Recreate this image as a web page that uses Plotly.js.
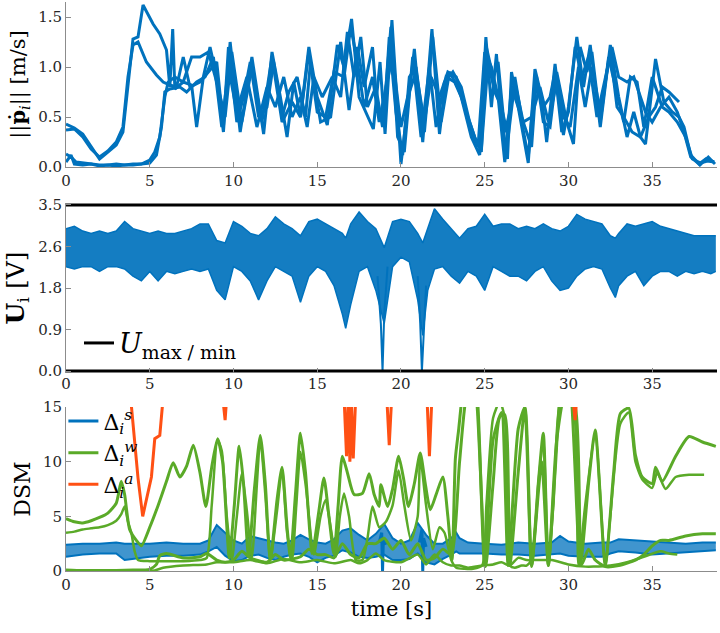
<!DOCTYPE html>
<html>
<head>
<meta charset="utf-8">
<script src="https://cdn.plot.ly/plotly-3.0.1.min.js"></script>
<style>html,body{margin:0;padding:0;background:#fff;}#chart{width:720px;height:633px;}</style>
</head>
<body>
<div id="chart"></div>
<script>
// ---------- Panel 1: speed ||p_i|| [m/s] (4 agents) ----------
const p1t = [0,0.5,1,1.5,2,2.5,3,3.4,3.7,4.0, 4.3,4.6,5.2,5.6,6.0,6.2,6.37,6.5,7.0,7.5, 7.8,8.2,8.6,9.0,9.4,9.8,10.4,11.1,11.8,12.3, 12.8,13.2,13.6,14.0,14.5,15.0,15.6,16.2,16.6,17.05, 17.5,17.9,18.35,18.75,19.05,19.46,20.0,20.4,20.8,21.3, 21.85,22.3,22.7,23.2,23.6,24.2,24.7,25.07,25.4,25.7, 26.0,26.36,26.6,27.0,27.6,28.0,28.4,28.7,29.2,29.7, 30.0,30.5,30.9,31.3,31.9,32.5,33.0,33.5,33.9,34.3, 34.6,35.2,35.7,36.2,36.6,36.9,37.3,37.85,38.35,38.75];
const p1v = [0.43,0.39,0.33,0.2,0.08,0.15,0.22,0.35,0.8,1.28, 1.3,1.62,1.43,1.33,1.17,0.8,1.38,0.78,0.85,0.82, 0.4,0.9,1.2,0.9,0.35,1.25,0.35,1.1,0.33,1.15, 0.7,0.3,0.85,0.5,1.2,0.7,0.42,1.22,1.0,1.48, 0.7,0.55,0.38,1.05,0.33,1.47,0.03,0.6,1.18,0.25, 1.38,0.33,0.9,0.85,0.7,0.3,0.12,1.3,0.6,1.13, 0.5,0.08,0.95,0.6,0.04,0.98,0.7,0.25,1.03,0.32, 0.6,1.3,0.8,1.22,0.4,1.22,0.7,0.3,0.55,0.3, 0.23,1.08,0.65,0.55,0.5,0.4,0.12,0.02,0.1,0.03];
const p2t = [0,0.5,1,1.5,2,2.5,3,3.4,3.7,4.0, 4.3,4.8,5.4,5.8,6.2,6.6,7.0,7.4,8.0,8.5, 9.0,9.4,9.7,10.2,10.6,11.0,11.5,12.0,12.4,12.9, 13.3,13.8,14.3,14.6,15.2,15.8,16.4,16.9,17.4,17.8, 18.3,18.6,19.0,19.3,19.7,20.1,20.5,20.9,21.4,21.9, 22.4,22.9,23.4,23.9,24.4,24.8,25.1,25.5,25.8,26.2, 26.5,26.8,27.2,27.8,28.1,28.5,28.9,29.3,29.9,30.3, 30.7,31.1,31.4,31.9,32.4,32.8,33.3,33.7,34.1,34.5, 35.0,35.6,36.0,36.5,37.0,37.4,37.9,38.3,38.7];
const p2v = [0.37,0.38,0.3,0.18,0.1,0.16,0.25,0.4,0.9,1.22, 1.25,1.05,0.92,0.85,0.82,0.8,1.1,0.8,0.85,0.95, 1.05,0.4,1.2,0.45,0.7,1.05,0.5,0.6,1.05,0.5, 0.75,0.9,0.5,1.05,0.45,0.5,1.25,0.57,1.2,0.8, 1.2,0.55,0.5,1.3,0.55,0.12,0.9,1.0,0.35,1.3, 0.45,0.95,0.8,0.55,0.3,0.15,1.2,0.9,1.05,0.35, 0.55,0.9,0.5,0.2,0.9,0.45,0.4,0.95,0.45,0.23, 1.2,0.95,1.15,0.45,1.1,0.8,0.45,0.9,0.85,0.4, 0.9,0.6,0.55,0.45,0.3,0.08,0.04,0.06,0.05];
const p3t = [0,0.3,0.6,1,1.5,2,2.5,3,3.5,4, 4.5,5.0,5.3,5.6,5.9,6.1,6.5,7.0,7.5,8.0, 8.5,9.0,9.5,9.9,10.5,11.1,11.7,12.3,12.9,13.5, 14.0,14.5,15.0,15.5,16.0,16.6,17.0,17.4,17.8,18.3, 18.7,19.1,19.5,20.0,20.4,20.9,21.4,21.8,22.3,22.8, 23.3,23.8,24.3,24.8,25.2,25.6,26.0,26.4,26.8,27.3, 27.8,28.3,28.8,29.3,29.7,30.1,30.6,31.0,31.4,31.9, 32.5,32.9,33.3,33.8,34.3,34.8,35.2,35.6,36.0,36.6];
const p3v = [0.13,0.1,0.05,0.04,0.03,0.02,0.02,0.03,0.02,0.03, 0.03,0.07,0.15,0.3,0.7,0.85,0.9,0.85,1.1,1.1, 1.15,0.85,0.5,1.15,0.45,1.0,0.45,1.1,0.45,0.65, 0.5,1.15,0.55,0.5,0.95,0.9,1.4,1.05,0.6,0.9, 0.45,0.8,1.1,0.4,0.7,0.95,0.45,0.9,0.7,0.95, 0.9,0.6,0.3,0.18,1.05,0.75,0.6,0.3,0.85,0.45, 0.5,0.8,0.45,0.85,0.5,0.4,1.0,0.6,1.0,0.55, 1.15,0.6,0.5,0.35,0.3,0.5,0.6,0.8,0.75,0.65];
const p4t = [0,0.3,0.5,1,1.5,2,2.5,3,3.5,4, 4.5,5.0,5.4,5.7,5.9,6.2,6.8,7.2,7.8,8.3, 8.8,9.3,9.7,10.2,10.8,11.4,12.0,12.5,13.0,13.5, 14.0,14.4,14.8,15.3,15.9,16.4,16.8,17.2,17.6,18.0, 18.5,18.9,19.4,19.8,20.2,20.7,21.2,21.7,22.1,22.6, 23.1,23.6,24.1,24.6,25.0,25.4,25.8,26.2,26.6,27.1, 27.6,28.0,28.5,28.9,29.2,29.6,30.0,30.4,30.8,31.2, 31.7,32.2,32.6,33.0,33.5,33.9,34.3,34.6,35.0,35.5, 36.0,36.5,36.9,37.3,37.8,38.2,38.7];
const p4v = [0.05,0.12,0.03,0.02,0.03,0.01,0.02,0.01,0.02,0.02, 0.03,0.04,0.12,0.4,0.75,0.78,0.8,0.75,0.85,0.9, 1.1,0.4,1.0,0.55,0.9,0.4,0.8,0.6,0.9,0.5, 0.7,0.4,0.9,0.7,0.9,0.7,1.35,0.9,1.3,0.6, 0.8,0.4,1.4,0.3,0.15,1.1,0.3,1.0,0.4,0.85, 0.95,0.8,0.45,0.2,1.15,1.0,0.7,0.05,0.8,0.55, 0.1,0.85,0.6,0.7,0.95,0.35,0.55,1.2,0.9,1.1, 0.5,0.9,1.2,0.9,0.85,0.9,0.7,0.55,0.45,0.6, 0.7,0.55,0.35,0.1,0.03,0.08,0.05];

// ---------- Panel 2: voltages U_i [V] (band of many agents) ----------
const bandT  = [0,0.5,1,1.5,2,2.5,3,3.5,4,4.5, 5,5.5,6,6.5,7,7.5,8,8.5,9,9.5, 10,10.5,11,11.5,12,12.5,13,13.5,14,14.5, 15,15.5,16,16.5,16.7,17,17.5,18,18.5,19, 19.5,20,20.5,21,21.3,21.6,22,22.5,23,23.5, 24,24.5,25,25.5,26,26.5,27,27.5,28,28.5, 29,29.5,30,30.5,31,31.5,32,32.5,32.8,33, 33.5,34,34.5,35,35.5,36,36.5,37,37.5,38, 38.5,38.8];
const bandHi = [3.0,3.05,2.95,2.9,2.95,2.9,2.95,3.15,3.0,2.95, 2.9,2.95,2.9,2.9,2.95,3.0,3.1,3.1,2.75,2.7, 3.15,3.05,2.9,2.85,3.0,3.25,3.1,3.0,2.85,3.15, 3.2,3.1,3.0,2.9,2.8,3.1,3.35,3.15,3.0,2.6, 3.15,3.2,3.15,2.9,2.7,3.0,3.42,3.2,3.0,2.8, 3.0,3.05,3.3,3.05,3.1,3.1,3.0,3.05,3.0,3.1, 3.0,2.95,3.05,3.3,3.2,3.15,3.1,2.85,2.8,2.9, 3.1,3.05,3.1,3.15,3.05,3.0,2.95,2.9,2.85,2.85, 2.85,2.85];
const bandLo = [2.2,2.15,2.2,2.2,2.1,2.2,2.2,2.15,2.0,1.9, 2.1,1.9,2.1,2.05,2.1,2.15,2.1,2.15,1.7,1.5, 2.2,2.1,1.9,1.5,1.9,2.2,2.1,2.0,1.45,2.0, 2.2,2.1,1.8,1.2,0.9,1.4,2.1,2.2,1.7,1.0, 2.2,2.4,2.3,1.5,0.75,1.7,2.15,2.2,2.0,1.85, 2.1,2.0,1.7,2.2,2.1,2.0,2.0,1.9,2.1,2.2, 1.9,1.7,1.75,2.0,2.15,2.2,2.15,1.75,1.55,1.8, 2.0,2.1,1.8,2.0,2.1,2.1,2.0,2.1,2.05,2.1, 2.05,2.1];
const uSpike1T = [18.6,18.8,18.9,19.0,19.2];
const uSpike1V = [2.0,1.0,0.0,1.2,2.2];
const uSpike2T = [21.0,21.15,21.25,21.35,21.5];
const uSpike2V = [2.0,1.0,0.0,0.8,1.8];
const uLimitT = [0, 38.87];
const uMax = [3.5, 3.5];
const uMin = [0, 0];
const uTickVals = [0, 0.875, 1.75, 2.625, 3.5];
const uTickText = ['0.0', '0.9', '1.8', '2.6', '3.5'];

// ---------- Panel 3: DSM ----------
const dsT  = [0,1,2,3,3.5,4,5,6,7,8, 8.5,9,9.5,10,10.5,11,11.5,12,12.5,13, 13.5,14,14.5,15,15.5,16,16.5,17,17.5,18, 18.5,19,19.5,20,20.5,21,21.5,22,22.5,23, 23.3,23.5,24,25,26,27,28,29,29.5,30, 31,32,32.5,33,34,35,36,37,38,38.8];
const dsHi = [2.4,2.5,2.5,2.6,2.5,2.5,2.5,2.6,2.5,2.5, 2.8,4.2,3.5,2.8,2.5,3.2,3.0,2.8,2.6,2.5, 2.8,3.3,2.9,2.6,2.5,2.9,3.7,3.9,3.3,2.8, 3.4,4.3,3.0,2.5,2.8,4.4,3.3,2.5,2.5,3.0, 3.5,3.0,2.6,2.5,2.4,2.6,2.5,2.6,3.2,2.7, 2.5,2.6,2.6,2.9,2.8,2.7,2.6,2.5,2.6,2.6];
const dsLo = [1.3,1.5,1.6,1.6,1.0,1.1,1.3,1.4,1.4,1.5, 1.8,2.2,1.4,0.9,1.0,1.4,1.5,1.2,1.0,1.3, 1.5,1.6,1.3,0.8,1.2,1.4,1.9,1.7,1.3,1.2, 1.3,1.5,1.0,1.0,1.1,1.6,0.8,0.6,1.1,1.5, 1.8,1.6,1.6,1.6,1.5,1.5,1.4,1.5,1.6,1.4, 1.3,1.3,1.6,1.8,1.7,1.5,1.6,1.7,1.8,1.9];
const dsSpikeT = [18.7,18.85,18.9,18.95,19.1,null,21.1,21.25,21.3,21.35,21.5];
const dsSpikeV = [2.6,3.5,0.0,3.0,2.4,null,2.6,3.8,0.0,3.0,2.2];
const gaT = [0,1,2,3,4,5,5.4,5.6,6,7, 8,8.4,9,9.5,10,10.5,11,12,12.5,13, 14,14.5,15,15.5,16,16.5,17,17.5,18,18.5, 19,19.5,20,20.5,21,21.5,22,22.5,23,23.5, 23.9,24.4,24.6,25.0,25.5,26.0,26.4,27.0,27.4,27.8, 28.4,28.8,29.3,29.8,30.4,30.8,31.2,31.6,32.2,33.0, 34.0,34.5,35,35.5,36,37,38,38.8];
const gaV = [0.1,0.05,0.05,0.05,0.08,0.15,0.6,1.4,1.6,1.2, 1.3,1.6,1.0,0.8,1.0,1.8,1.2,0.8,1.5,1.0, 1.3,2.0,1.5,1.5,1.2,2.5,1.5,1.2,2.5,2.5, 3.0,2.0,2.8,1.5,2.5,1.0,1.2,2.0,1.5,10.0, 16,18,15,0.4,12,14.5,0.5,13,15,0.5, 10,0.5,12,16,15,0.6,2.0,1.0,0.4,0.5, 1.0,1.5,2.3,2.8,2.8,3.2,3.4,3.4];
const gbT = [0,1,2,3,4,5,5.3,5.8,7,8.4, 9,10,11,12,13,14,15,16,17,17.5, 18,18.5,19,20,21,21.5,22,22.5,23,23.5, 24.0,24.85,25.5,26,26.5,27,27.5,28,29,30, 31,31.5,32.5,33.5,34.5,35.5,36,36.5];
const gbV = [0.02,0.02,0.02,0.02,0.02,0.03,0.05,0.3,0.5,0.6, 0.8,0.8,1.0,0.7,1.1,0.8,1.0,0.7,1.0,0.7, 1.0,1.6,1.0,0.8,1.5,0.6,1.5,0.8,0.5,0.5, 0.3,0.5,0.6,0.8,0.5,1.2,1.0,1.0,1.0,0.6, 0.4,0.4,0.5,0.8,1.3,1.8,1.6,1.5];
const gcT = [0,0.5,1,1.5,2,2.5,3,3.3,3.5,3.8, 4.2,4.5,5,5.5,6,6.4,6.8,7.2,7.6,8.0, 8.35,8.7,9.05,9.35,9.75,10.05,10.34,10.6,10.9,11.25, 11.6,11.9,12.2,12.6,12.9,13.2,13.4,13.7,14.0,14.3, 14.7,15.1,15.4,15.7,16.0,16.25,16.5,16.8,17.2,17.7, 18.1,18.4,18.7,18.8,19.2,19.5,19.86,20.15,20.45,20.8, 21.15,21.45,21.75,22.1,22.5,22.8,23.05,23.25,23.45,23.65, 24.0,24.5,25.05,25.5,25.9,26.2,26.5,27.0,27.4,27.8, 28.2,28.5,28.8,29.2,29.6,30.0,30.7,31.2,31.6,32.2, 32.7,33.1,33.6,34.0,34.4,35.0,35.2,35.6,36.4,37.2, 38.0,38.8];
const gcV = [4.8,4.5,4.4,4.6,4.9,5.3,6.2,8.2,7.0,3.8, 2.8,2.3,4.0,6.0,8.2,9.9,8.6,9.6,11.5,9.0, 5.9,9.5,12.1,10.0,1.2,6.0,11.4,8.0,1.3,7.5, 12.4,8.0,1.0,6.5,9.5,4.0,1.2,7.0,12.6,9.0, 1.6,5.5,8.5,5.0,1.5,6.0,10.5,9.0,7.0,7.1, 8.9,7.0,5.9,7.9,5.9,7.5,10.5,8.5,5.9,8.0, 10.8,8.0,5.6,7.0,8.6,5.0,1.0,10.3,13.0,16, 20,16,0.4,8.0,14.1,14.3,0.5,9.0,14.9,0.4, 8.0,12.6,0.5,9.0,17,18,0.5,8.0,12.9,0.5, 9.0,14.4,14.9,10.6,8.6,8.0,9.5,8.2,10.5,12.3, 11.8,11.4];
const gdT = [0,0.5,1,1.5,2,2.5,3,3.3,3.5,3.7, 3.9,4.1,4.3,5,6,7,8,8.4,8.7,9.05, 9.3,9.6,9.9,10.2,10.5,10.8,11.1,11.4,11.6,11.9, 12.2,12.6,12.9,13.2,13.5,13.75,14.0,14.3,14.8,15.2, 15.5,15.8,16.1,16.35,16.6,16.9,17.3,17.7,18.0,18.3, 18.7,19.1,19.5,19.86,20.2,20.6,21.0,21.15,21.5,21.9, 22.3,22.6,23.0,23.3,23.8,24.3,24.85,25.1,25.5,25.9, 26.2,26.5,26.8,27.2,27.5,27.8,28.2,28.5,28.8,29.1, 29.6,30.2,30.6,31.0,31.6,32.2,32.5,33.1,33.6,34.0, 34.4,35.0,35.3,35.8,36.4,37.2,38.1];
const gdV = [3.5,3.6,3.8,3.9,4.0,4.2,4.6,5.2,5.9,4.5, 3.5,1.8,1.0,0.9,0.9,0.9,1.0,1.2,6.0,12.0, 11.0,5.0,1.0,5.0,8.9,5.5,1.2,8.0,12.2,7.0, 1.0,5.5,9.3,3.5,1.0,6.0,10.9,8.0,1.5,5.0, 6.5,4.0,1.3,5.0,7.1,5.0,1.0,1.0,3.0,5.9, 4.0,4.5,6.0,9.2,6.0,2.8,5.0,10.5,6.0,2.0, 4.0,3.5,1.0,0.3,0.2,0.2,0.5,6.0,14.0,15.5, 14.0,0.5,0.3,0.5,0.5,1.0,8.0,12.0,0.6,6.0, 16.0,16.0,0.5,6.0,12.5,0.5,5.0,13.5,14.5,10.0, 8.4,7.6,9.0,7.5,8.6,8.8,8.8];
const daT = [3.85,4.1,4.3,4.58,4.8,5.1,5.3,5.6,5.75,5.85,null, 9.35,9.5,9.6,null, 16.6,16.75,16.85,16.95,17.05,17.15,17.3,null, 19.15,19.3,19.45,null, 21.55,21.7,21.85,null, 30.25,30.4,30.5];
const daV = [16,12,8.5,5,6.5,8.6,12.1,12.4,15,16,null, 16,13.8,16,null, 16,10.5,16,10,15,10.3,16,null, 16,11.5,16,null, 16,10.5,16,null, 16,13.8,16];

const xTickVals = [0,5,10,15,20,25,30,35];
const p1TickVals = [0,0.5,1,1.5];
const p1TickText = ['0.0','0.5','1.0','1.5'];
const dsmTickVals = [0,5,10,15];

// ---------- styles ----------
const BLUE = '#0072BD', GREEN = '#5AAA28', RED = '#FF5014';
const XMAX = 38.87;
function tf(size) { return {family: 'DejaVu Serif', size: size, color: '#262626'}; }
function df(size) { return {family: 'DejaVu Serif', size: size, color: '#000000'}; }

function ln(x, y, color, width, xa, ya, extra) {
  return Object.assign({x: x, y: y, type: 'scatter', mode: 'lines', xaxis: xa, yaxis: ya,
    line: {color: color, width: width}, showlegend: false, hoverinfo: 'skip'}, extra || {});
}
function gl(x, y, width, extra) {
  return ln(x, y, GREEN, width, 'x3', 'y3', Object.assign({line: {color: GREEN, width: width, shape: 'spline', smoothing: 0.6}}, extra || {}));
}

const traces = [
  ln(p1t, p1v, BLUE, 3, 'x', 'y'),
  ln(p2t, p2v, BLUE, 3, 'x', 'y'),
  ln(p3t, p3v, BLUE, 3, 'x', 'y'),
  ln(p4t, p4v, BLUE, 3, 'x', 'y'),

  ln(bandT, bandLo, BLUE, 1.5, 'x2', 'y2'),
  ln(bandT, bandHi, BLUE, 1.5, 'x2', 'y2', {fill: 'tonexty', fillcolor: 'rgba(0,114,189,0.92)'}),
  ln(uSpike1T, uSpike1V, BLUE, 2, 'x2', 'y2'),
  ln(uSpike2T, uSpike2V, BLUE, 2, 'x2', 'y2'),
  ln(uLimitT, uMax, '#000', 3, 'x2', 'y2', {showlegend: true, legend: 'legend2',
      name: '<i>U</i><sub>max / min</sub>', legendgroup: 'u'}),
  ln(uLimitT, uMin, '#000', 3, 'x2', 'y2', {legendgroup: 'u'}),

  ln(dsT, dsLo, BLUE, 2, 'x3', 'y3'),
  ln(dsT, dsHi, BLUE, 2, 'x3', 'y3', {fill: 'tonexty', fillcolor: 'rgba(0,114,189,0.75)'}),
  ln(dsSpikeT, dsSpikeV, BLUE, 3, 'x3', 'y3', {showlegend: true, name: 'Δ<sub><i>i</i></sub><sup><i>s</i></sup>',
      connectgaps: false, legendgroup: 's', legendrank: 1}),
  gl(gaT, gaV, 3, {showlegend: true, name: 'Δ<sub><i>i</i></sub><sup><i>w</i></sup>', legendgroup: 'w', legendrank: 2}),
  gl(gbT, gbV, 2.5, {legendgroup: 'w'}),
  gl(gcT, gcV, 3, {legendgroup: 'w'}),
  gl(gdT, gdV, 2.5, {legendgroup: 'w'}),
  ln(daT, daV, RED, 3, 'x3', 'y3', {showlegend: true, name: 'Δ<sub><i>i</i></sub><sup><i>a</i></sup>',
      connectgaps: false, legendgroup: 'a', legendrank: 3})
];

function xax(extra) {
  return Object.assign({range: [0, XMAX], tickvals: xTickVals, ticks: 'inside', ticklen: 5, tickcolor: '#8c8c8c',
    showline: true, linecolor: '#8c8c8c', linewidth: 1, showgrid: false, zeroline: false, tickfont: tf(15)}, extra);
}
function yax(extra) {
  return Object.assign({ticks: 'inside', ticklen: 5, tickcolor: '#8c8c8c', showline: true, linecolor: '#8c8c8c',
    linewidth: 1, showgrid: false, zeroline: false, tickfont: tf(15)}, extra);
}

const layout = {
  width: 720, height: 633,
  margin: {l: 66, r: 3, t: 2, b: 62},
  paper_bgcolor: '#fff', plot_bgcolor: '#fff',
  font: {family: 'DejaVu Serif', size: 15, color: '#000000'},
  xaxis: xax({anchor: 'y'}),
  yaxis: yax({domain: [0.710, 1], range: [0, 1.65], tickvals: p1TickVals, ticktext: p1TickText,
    title: {text: '||<b>ṗ</b><sub><i>i</i></sub>|| [m/s]', font: df(21), standoff: 6}}),
  xaxis2: xax({anchor: 'y2', showline: false}),
  yaxis2: yax({domain: [0.348, 0.6467], range: [-0.04, 3.54], tickvals: uTickVals, ticktext: uTickText,
    title: {text: '<b>U</b><sub>i</sub> [V]', font: df(25), standoff: 6}}),
  xaxis3: xax({anchor: 'y3', title: {text: 'time [s]', font: df(21), standoff: 8}}),
  yaxis3: yax({domain: [0, 0.2882], range: [0, 15], tickvals: dsmTickVals,
    title: {text: 'DSM', font: df(22), standoff: 6}}),
  legend: {x: -0.004, y: 0.30, xanchor: 'left', yanchor: 'top', bgcolor: 'rgba(0,0,0,0)', traceorder: 'normal',
    font: df(22), tracegroupgap: 2, itemwidth: 30},
  legend2: {x: 0.02, y: 0.40, xanchor: 'left', yanchor: 'middle', bgcolor: 'rgba(0,0,0,0)', font: df(27)},
  showlegend: true
};

Plotly.newPlot('chart', traces, layout, {staticPlot: true});
</script>
</body>
</html>
